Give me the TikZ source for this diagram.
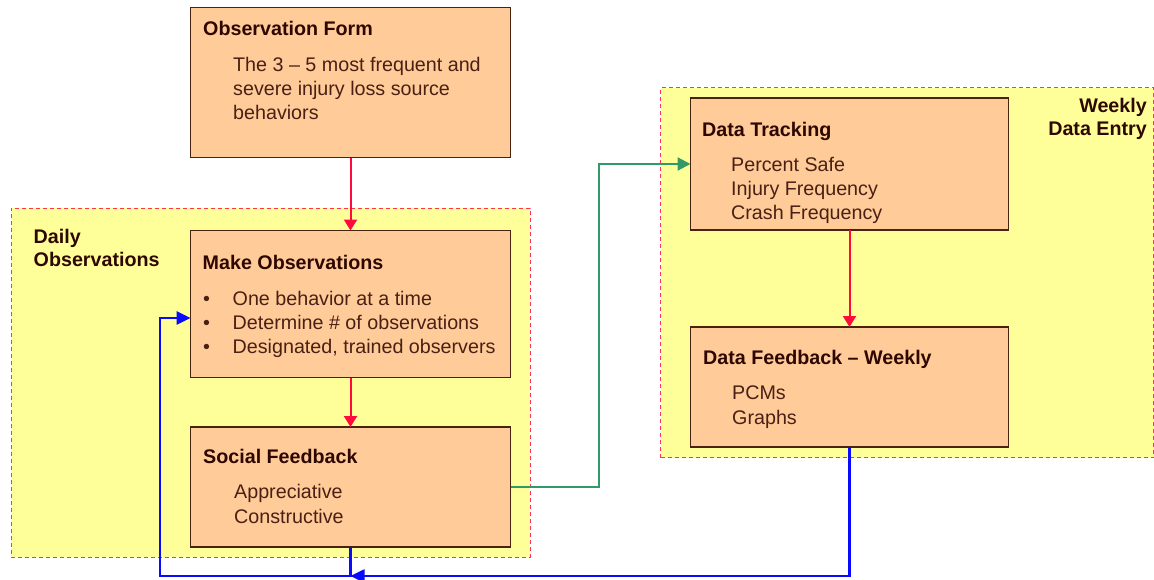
\documentclass[tikz,border=0pt]{standalone}
\usepackage{fontspec}
\setmainfont{Liberation Sans}
\usetikzlibrary{arrows.meta}
\definecolor{peach}{HTML}{FFCC99}
\definecolor{boxborder}{HTML}{4A2210}
\definecolor{zone}{HTML}{FFFF99}
\definecolor{zoneborder}{HTML}{FF3355}
\definecolor{titletext}{HTML}{2E0800}
\definecolor{bodytext}{HTML}{4A1F14}
\definecolor{redline}{HTML}{FF0A3C}
\definecolor{greenline}{HTML}{339966}
\definecolor{blueline}{HTML}{0A0AFF}
\begin{document}
\begin{tikzpicture}[x=1pt,y=-1pt,
  zonebox/.style={draw=zoneborder, fill=zone, line width=1pt, dash pattern=on 4pt off 3pt, anchor=north west, inner sep=0pt},
  stepbox/.style={draw=boxborder, fill=peach, line width=1.4pt, anchor=north west, inner sep=0pt, outer sep=0pt},
  ttl/.style={anchor=base west, inner sep=0pt, font=\fontsize{19.7}{24}\selectfont\bfseries, text=titletext},
  txt/.style={anchor=base west, inner sep=0pt, font=\fontsize{19.7}{24}\selectfont, text=bodytext},
  redarrow/.style={draw=redline, line width=2pt, -{Triangle[width=13pt,length=11pt]}},
  greenarrow/.style={draw=greenline, line width=2.2pt, -{Triangle[width=13pt,length=13pt]}},
  bluearrow/.style={draw=blueline, line width=2.6pt, -{Triangle[width=13pt,length=14pt]}}
]
\useasboundingbox (0,0) rectangle (1154,579);

% zones
\node[zonebox, minimum width=519pt, minimum height=349pt] (daily) at (10.5,207.5) {};
\node[zonebox, minimum width=493pt, minimum height=370pt] (weekly) at (660,87) {};

% boxes
\node[stepbox, minimum width=320pt, minimum height=150pt] (obs) at (190.5,7.5) {};
\node[stepbox, minimum width=320pt, minimum height=147pt] (mk) at (190.5,230.5) {};
\node[stepbox, minimum width=320pt, minimum height=120pt] (soc) at (190.5,427) {};
\node[stepbox, minimum width=318pt, minimum height=132pt] (dt) at (690.5,98) {};
\node[stepbox, minimum width=318pt, minimum height=120pt] (df) at (690.5,327) {};

% zone labels
\node[ttl] (dailyA) at (33.5,243) {Daily};
\node[ttl] (dailyB) at (33.5,266) {Observations};
\node[ttl, anchor=base east] (weekA) at (1147,112) {Weekly};
\node[ttl, anchor=base east] (weekB) at (1147,135) {Data Entry};

% Observation Form
\node[ttl] (obsT) at (203,35.5) {Observation Form};
\node[txt] (obs1) at (233,71) {The 3 -- 5 most frequent and};
\node[txt] (obs2) at (233,95) {severe injury loss source};
\node[txt] (obs3) at (233,119) {behaviors};

% Make Observations
\node[ttl] (mkT) at (202.5,269) {Make Observations};
\node[txt] (mkb1) at (203,305) {•};
\node[txt] (mkb2) at (203,329) {•};
\node[txt] (mkb3) at (203,353) {•};
\node[txt] (mk1) at (232.5,305) {One behavior at a time};
\node[txt] (mk2) at (232.5,329) {Determine \# of observations};
\node[txt] (mk3) at (232.5,353) {Designated, trained observers};

% Social Feedback
\node[ttl] (socT) at (203,463) {Social Feedback};
\node[txt] (soc1) at (234,498) {Appreciative};
\node[txt] (soc2) at (234,523) {Constructive};

% Data Tracking
\node[ttl] (dtT) at (702,136.5) {Data Tracking};
\node[txt] (dt1) at (731,171) {Percent Safe};
\node[txt] (dt2) at (731,195) {Injury Frequency};
\node[txt] (dt3) at (731,219) {Crash Frequency};

% Data Feedback
\node[ttl] (dfT) at (703,364) {Data Feedback -- Weekly};
\node[txt] (df1) at (732,399) {PCMs};
\node[txt] (df2) at (732,424) {Graphs};

% connectors
\coordinate (gturn) at (599,487);
\coordinate (bjoin) at (350.5,576);
\coordinate (bcorner) at (160,576);
\coordinate (bin) at (190.5,318);

\draw[redarrow] (obs.south) -- (mk.north);
\draw[redarrow] (mk.south) -- (soc.north);
\draw[redarrow] (dt.south) -- (df.north);
\draw[greenarrow] (soc.east) -- (soc.east -| gturn) |- (dt.west);
\draw[bluearrow] (df.south) |- (bjoin);
\draw[bluearrow] (soc.south) |- (bcorner) |- (bin);
\end{tikzpicture}
\end{document}
